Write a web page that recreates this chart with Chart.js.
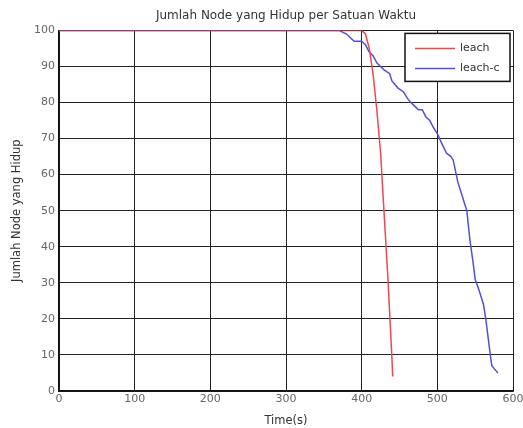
<!DOCTYPE html>
<html>
<head>
<meta charset="utf-8">
<script src="https://cdn.jsdelivr.net/npm/chart.js@4"></script>
<style>
  html, body { margin: 0; padding: 0; background: #fff; }
  #myChart { display: block; }
</style>
</head>
<body>
<canvas id="myChart" width="523" height="428"></canvas>
<script>
// leach series
const leachTime  = [0, 400, 405, 410, 415, 420, 425, 430, 435, 440, 441];
const leachNodes = [100, 100, 99, 95, 88, 78, 66, 48, 30, 9, 4];

// leach-c series
const leachcTime  = [0, 370, 380, 390, 400, 405, 410, 415, 420, 425, 430, 437, 440, 448, 455, 461, 465, 470, 475, 480, 485, 490, 495, 501, 505, 512, 518, 521, 527, 533, 539, 543, 547, 550, 555, 561, 564, 567, 570, 572, 576, 580];
const leachcNodes = [100, 100, 99, 97, 97, 96, 94, 93, 91, 90, 89, 88, 86, 84, 83, 81, 80, 79, 78, 78, 76, 75, 73, 71, 69, 66, 65, 64, 58, 54, 50, 42, 36, 31, 28, 24, 20, 15, 10, 7, 6, 5];

const xTicks = [0, 100, 200, 300, 400, 500, 600];
const yTicks = [0, 10, 20, 30, 40, 50, 60, 70, 80, 90, 100];

const toPoints = (xs, ys) => xs.map((x, i) => ({ x: x, y: ys[i] }));

const FONT = "'DejaVu Sans', sans-serif";

// legend drawn inside the plot box, top right
const boxLegend = {
    id: "boxLegend",
    afterDatasetsDraw(chart) {
        const ctx = chart.ctx;
        const area = chart.chartArea;
        const w = 105, h = 48;
        const x0 = area.right - w - 3, y0 = area.top + 3;
        ctx.save();
        ctx.fillStyle = "#fff";
        ctx.fillRect(x0, y0, w, h);
        ctx.strokeStyle = "#111";
        ctx.lineWidth = 1.5;
        ctx.strokeRect(x0, y0, w, h);
        ctx.font = "11px " + FONT;
        ctx.textBaseline = "middle";
        chart.data.datasets.forEach((ds, i) => {
            const y = y0 + 15 + i * 20;
            ctx.strokeStyle = ds.borderColor;
            ctx.lineWidth = 1.5;
            ctx.beginPath();
            ctx.moveTo(x0 + 10, y);
            ctx.lineTo(x0 + 50, y);
            ctx.stroke();
            ctx.fillStyle = "#333";
            ctx.fillText(ds.label, x0 + 55, y);
        });
        ctx.restore();
    }
};

const ctx = document.getElementById("myChart").getContext("2d");

new Chart(ctx, {
    type: "line",
    data: {
        datasets: [
            {
                label: "leach",
                data: toPoints(leachTime, leachNodes),
                borderColor: "rgb(240,70,80)",
                borderWidth: 1.5,
                pointRadius: 0,
                tension: 0
            },
            {
                label: "leach-c",
                data: toPoints(leachcTime, leachcNodes),
                borderColor: "rgb(80,80,220)",
                borderWidth: 1.5,
                pointRadius: 0,
                tension: 0
            }
        ]
    },
    options: {
        responsive: false,
        animation: false,
        layout: { padding: { left: 0, right: 10, top: 0, bottom: 0 } },
        plugins: {
            legend: { display: false },
            tooltip: { enabled: false },
            title: {
                display: true,
                fullSize: false,
                text: "Jumlah Node yang Hidup per Satuan Waktu",
                color: "#333",
                font: { family: FONT, size: 12, weight: "normal" },
                padding: { top: 9, bottom: 7 }
            }
        },
        scales: {
            x: {
                type: "linear",
                min: 0,
                max: 600,
                afterBuildTicks: s => { s.ticks = xTicks.map(v => ({ value: v })); },
                afterFit: s => { s.height = 37; s.paddingRight = 10; },
                ticks: { color: "#666", font: { family: FONT, size: 11 }, padding: 2, maxRotation: 0 },
                grid: { color: "#222", lineWidth: 1, tickLength: 0 },
                border: { color: "#111", width: 1.5 },
                title: {
                    display: true,
                    text: "Time(s)",
                    color: "#333",
                    font: { family: FONT, size: 11.5 },
                    padding: { top: 0, bottom: 0 }
                }
            },
            y: {
                min: 0,
                max: 100,
                afterBuildTicks: s => { s.ticks = yTicks.map(v => ({ value: v })); },
                afterFit: s => { s.width = 59; },
                ticks: { color: "#666", font: { family: FONT, size: 11 }, padding: 4 },
                grid: { color: "#222", lineWidth: 1, tickLength: 0 },
                border: { color: "#111", width: 1.5 },
                title: {
                    display: true,
                    text: "Jumlah Node yang Hidup",
                    color: "#333",
                    font: { family: FONT, size: 11.5 },
                    padding: { top: 10, bottom: 6 }
                }
            }
        }
    },
    plugins: [boxLegend]
});
</script>
</body>
</html>
